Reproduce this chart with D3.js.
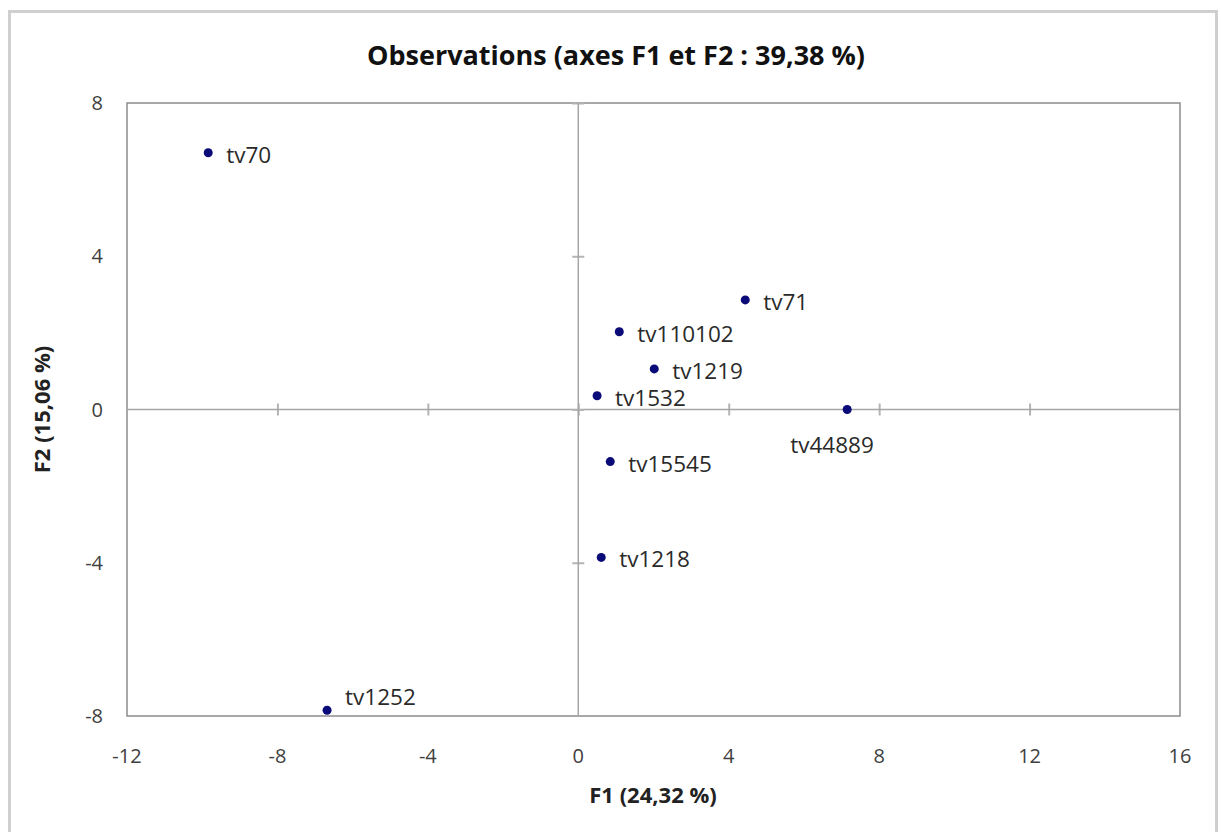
<!DOCTYPE html>
<html><head><meta charset="utf-8">
<script src="https://cdn.jsdelivr.net/npm/d3@7"></script>
<style>
html,body{margin:0;padding:0;background:#fff;}
svg{display:block;}
</style></head>
<body>
<svg id="chart" width="1221" height="832"></svg>
<script>
const labels = ["tv70","tv71","tv110102","tv1219","tv1532","tv44889","tv15545","tv1218","tv1252"];
const f1 = [-9.84, 4.44, 1.09, 2.02, 0.50, 7.15, 0.85, 0.61, -6.68];
const f2 = [6.70, 2.86, 2.03, 1.06, 0.36, 0.00, -1.36, -3.86, -7.85];
const xTicks = [-12,-8,-4,0,4,8,12,16];
const yTicks = [-8,-4,0,4,8];
const title = "Observations (axes F1 et F2 : 39,38 %)";
const xTitle = "F1 (24,32 %)";
const yTitle = "F2 (15,06 %)";

const svg = d3.select("#chart");
const font = "'Open Sans', sans-serif";
const L = 127, R = 1180, T = 103, B = 716;

// outer chart frame
svg.append("rect").attr("x",9.5).attr("y",11.5).attr("width",1207).attr("height",900)
  .attr("fill","#fff").attr("stroke","#cfcfcf").attr("stroke-width",3);

const x = d3.scaleLinear().domain([-12,16]).range([L,R]);
const y = d3.scaleLinear().domain([-8,8]).range([B,T]);

// plot area border
svg.append("rect").attr("x",L).attr("y",T).attr("width",R-L).attr("height",B-T)
  .attr("fill","none").attr("stroke","#8c8c8c").attr("stroke-width",1.5);

// zero axes with tick marks via d3 axes
const xAxis = d3.axisBottom(x).tickValues(xTicks.filter(v=>v>-12 && v<16)).tickSize(12).tickFormat("");
const gx = svg.append("g").attr("transform",`translate(0,${y(0)-6})`).call(xAxis);
gx.select(".domain").remove();
gx.selectAll(".tick line").attr("stroke","#b4b4b4").attr("stroke-width",2);
svg.append("line").attr("x1",L).attr("x2",R).attr("y1",y(0)).attr("y2",y(0))
  .attr("stroke","#a6a6a6").attr("stroke-width",1.5);

const yAxis = d3.axisLeft(y).tickValues(yTicks.filter(v=>v>-8)).tickSize(12).tickFormat("");
const gy = svg.append("g").attr("transform",`translate(${x(0)+6},0)`).call(yAxis);
gy.select(".domain").remove();
gy.selectAll(".tick line").attr("stroke","#b4b4b4").attr("stroke-width",2);
svg.append("line").attr("x1",x(0)).attr("x2",x(0)).attr("y1",T).attr("y2",B)
  .attr("stroke","#a6a6a6").attr("stroke-width",1.5);

// tick labels
svg.append("g").selectAll("text").data(xTicks).join("text")
  .attr("x",d=>x(d)).attr("y",B+47).attr("text-anchor","middle")
  .attr("font-family",font).attr("font-size",20).attr("fill","#404040")
  .text(d=>d<0?"-"+Math.abs(d):d);
svg.append("g").selectAll("text").data(yTicks).join("text")
  .attr("x",L-24).attr("y",d=>y(d)+7).attr("text-anchor","end")
  .attr("font-family",font).attr("font-size",20).attr("fill","#404040")
  .text(d=>d<0?"-"+Math.abs(d):d);

// points
const data = labels.map((l,i)=>({l, a:f1[i], b:f2[i]}));
svg.append("g").selectAll("circle").data(data).join("circle")
  .attr("cx",d=>x(d.a)).attr("cy",d=>y(d.b)).attr("r",4.5).attr("fill","#0a0a78");
svg.append("g").selectAll("text").data(data).join("text")
  .attr("x",d=> d.l==="tv44889" ? x(d.a)-57 : x(d.a)+18)
  .attr("y",d=> d.l==="tv44889" ? y(d.b)+43 : d.l==="tv1252" ? y(d.b)-5 : y(d.b)+10)
  .attr("font-family",font).attr("font-size",22.5).attr("fill","#2a2a2a")
  .text(d=>d.l);

// titles
svg.append("text").attr("x",616).attr("y",65).attr("text-anchor","middle")
  .attr("font-family",font).attr("font-weight","bold").attr("font-size",27).attr("fill","#111")
  .text(title);
svg.append("text").attr("x",653).attr("y",803).attr("text-anchor","middle")
  .attr("font-family",font).attr("font-weight","bold").attr("font-size",22).attr("fill","#222")
  .text(xTitle);
svg.append("text").attr("transform",`translate(50,${y(0)}) rotate(-90)`).attr("text-anchor","middle")
  .attr("font-family",font).attr("font-weight","bold").attr("font-size",22).attr("fill","#222")
  .text(yTitle);
</script>
</body></html>
